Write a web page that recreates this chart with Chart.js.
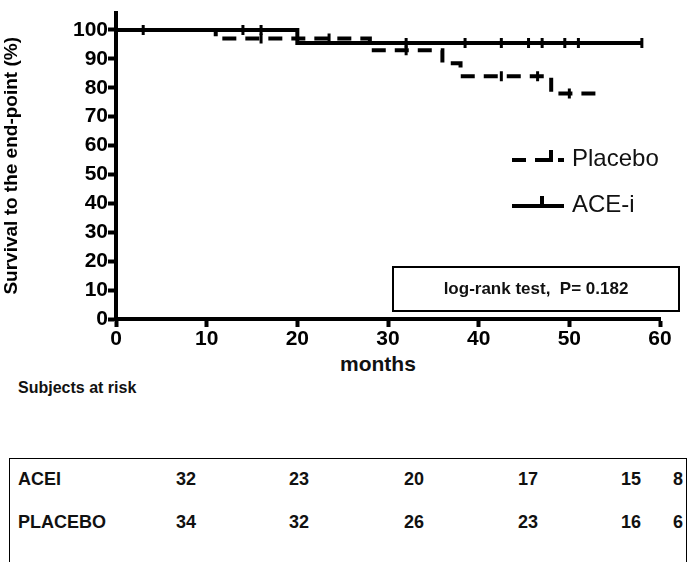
<!DOCTYPE html>
<html><head><meta charset="utf-8">
<script src="https://cdn.jsdelivr.net/npm/chart.js@4"></script>
<style>
body{margin:0;background:#fff;font-family:"Liberation Sans",Arial,sans-serif;}
#wrap{position:relative;width:694px;height:562px;}
canvas{position:absolute;left:0;top:0;}
.t{position:absolute;font-weight:bold;color:#111;white-space:nowrap;}
.ln{position:absolute;height:4px;background:#000;}
</style></head><body>
<div id="wrap">
<canvas id="km" width="694" height="352"></canvas>
<div class="t" style="left:18px;top:379px;font-size:16px;">Subjects at risk</div>
<div class="t" style="left:340px;top:352px;font-size:21px;">months</div>
<div class="t" style="left:392px;top:266px;width:284px;height:42px;border:2px solid #000;font-size:17px;line-height:42px;text-align:center;">log-rank test,&nbsp; P= 0.182</div>
<div class="ln" style="left:512px;top:158px;width:14px"></div>
<div class="ln" style="left:535px;top:158px;width:14px"></div>
<div class="ln" style="left:558px;top:158px;width:6px"></div>
<div class="ln" style="left:549px;top:150px;width:4px;height:12px"></div>
<div class="t" style="left:572px;top:144px;font-size:24px;font-weight:normal">Placebo</div>
<div class="ln" style="left:512px;top:204px;width:52px"></div>
<div class="ln" style="left:540px;top:196px;width:4px;height:10px"></div>
<div class="t" style="left:572px;top:190px;font-size:24px;font-weight:normal">ACE-i</div>
<div id="tbl" style="position:absolute;left:9px;top:458px;width:676px;height:104px;border:1px solid #000;border-bottom:none;"></div>
</div>
<script>
var months = [0, 10, 20, 30, 40, 50, 60];
var aceTimes = [0, 20, 58];
var aceSurv = [100, 95.5, 95.5];
var aceCensor = [3, 14, 16, 32, 38.5, 42.5, 45.5, 47, 49.5, 51, 58];
var plaTimes = [0, 11, 20, 28, 36, 38, 48, 53];
var plaSurv = [100, 97, 97, 93, 88.5, 84, 78, 78];
var plaCensor = [16, 23.5, 32, 42.5, 46.5, 50];
var riskLabels = ["ACEI", "PLACEBO"];
var aceRisk = [32, 23, 20, 17, 15, 8];
var plaRisk = [34, 32, 26, 23, 16, 6];

function survAt(times, surv, t) {
  var s = surv[0];
  for (var i = 0; i < times.length; i++) if (times[i] <= t) s = surv[i];
  return s;
}
function pts(times, surv) { return times.map(function (t, i) { return {x: t, y: surv[i]}; }); }
function cens(list, times, surv) { return list.map(function (t) { return {x: t, y: survAt(times, surv, t)}; }); }

var tickFont = {family: "Liberation Sans", size: 21, weight: "bold"};
var gridOpts = {display: true, drawOnChartArea: false, drawTicks: true, tickLength: 8, tickWidth: 4, tickColor: "#000"};
new Chart("km", {
  type: "scatter",
  data: {datasets: [
    {data: pts(plaTimes, plaSurv), showLine: true, stepped: true, borderColor: "#000", borderWidth: 4, borderDash: [14, 9], pointRadius: 0},
    {data: pts(aceTimes, aceSurv), showLine: true, stepped: true, borderColor: "#000", borderWidth: 4, pointRadius: 0},
    {data: cens(plaCensor, plaTimes, plaSurv), pointStyle: "line", rotation: 90, pointRadius: 5, borderColor: "#000", borderWidth: 3},
    {data: cens(aceCensor, aceTimes, aceSurv), pointStyle: "line", rotation: 90, pointRadius: 5, borderColor: "#000", borderWidth: 3}
  ]},
  options: {
    responsive: false, animation: false,
    layout: {padding: {top: 12, right: 34}},
    plugins: {legend: {display: false}, tooltip: {enabled: false}},
    scales: {
      x: {type: "linear", min: 0, max: 60, afterBuildTicks: function (a) { a.ticks = months.map(function (v) { return {value: v}; }); },
        grid: gridOpts,
        border: {color: "#000", width: 4},
        ticks: {color: "#000", font: tickFont, padding: 0},
        afterFit: function (a) { a.height = 33; }},
      y: {min: 0, max: 106, afterBuildTicks: function (a) { var t = []; for (var v = 0; v <= 100; v += 10) t.push({value: v}); a.ticks = t; },
        grid: gridOpts,
        border: {color: "#000", width: 4},
        ticks: {color: "#000", font: tickFont, padding: 0},
        title: {display: true, text: "Survival to the end-point (%)", color: "#000", font: {family: "Liberation Sans", size: 19, weight: "bold"}, padding: 0},
        afterFit: function (a) { a.width = 116; }}
    }
  }
});

var cols = [185, 298, 413, 527, 630, 677];
var html = "";
[aceRisk, plaRisk].forEach(function (row, r) {
  var top = 10 + r * 43;
  html += '<div class="t" style="left:8px;top:' + top + 'px;font-size:18px;">' + riskLabels[r] + '</div>';
  row.forEach(function (v, i) {
    html += '<div class="t" style="left:' + (cols[i] - 9 - 20) + 'px;width:40px;text-align:center;top:' + top + 'px;font-size:18px;">' + v + '</div>';
  });
});
document.getElementById("tbl").innerHTML = html;
</script>
</body></html>
